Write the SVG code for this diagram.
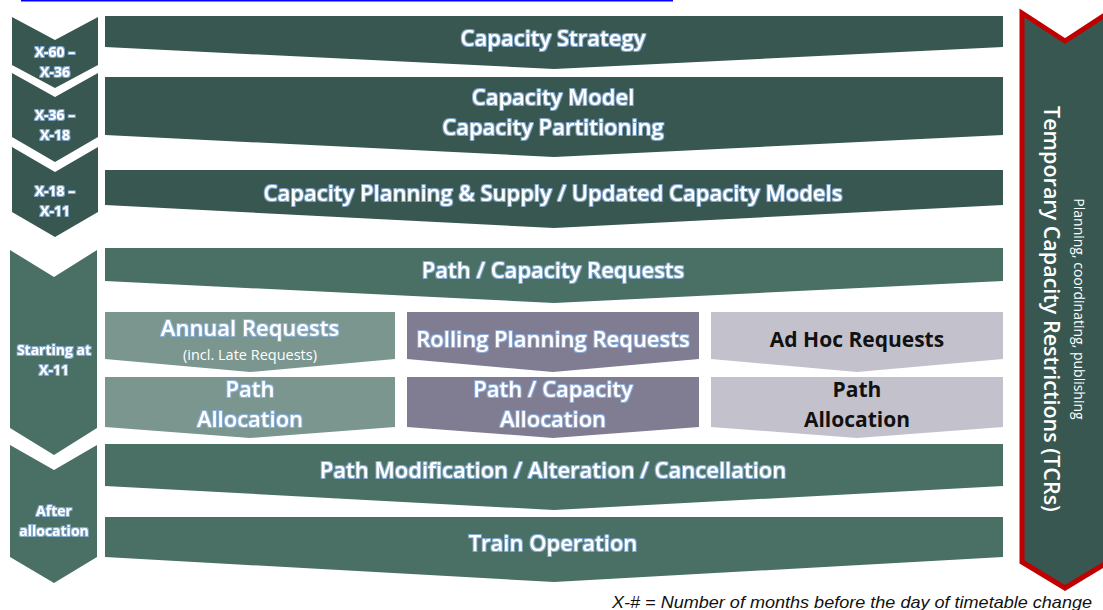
<svg xmlns="http://www.w3.org/2000/svg" width="1103" height="610" viewBox="0 0 1103 610">
<defs>
<filter id="glow" x="-10%" y="-30%" width="120%" height="160%">
<feMorphology in="SourceAlpha" operator="dilate" radius="0.5" result="d"/>
<feGaussianBlur in="d" stdDeviation="0.7" result="b"/>
<feFlood flood-color="#8fb8e8" flood-opacity="0.8"/>
<feComposite in2="b" operator="in" result="g"/>
<feMerge><feMergeNode in="g"/><feMergeNode in="SourceGraphic"/></feMerge>
</filter>
</defs>
<style>
.dk{fill:#385750}
.md{fill:#4A7066}
.an{fill:#7A968F}
.rp{fill:#807C92}
.ah{fill:#C3C1CC}
text{font-family:"Open Sans","Liberation Sans",sans-serif;text-anchor:middle}
.t{fill:#fff;font-weight:600;font-size:22px;filter:url(#glow)}
.td{fill:#111;font-weight:700;font-size:21px}
.lb{fill:#fff;font-weight:700;font-size:14px;filter:url(#glow)}
.sm{fill:#fff;font-size:14.5px}
</style>
<rect width="1103" height="610" fill="#fff"/>
<line x1="21" y1="0.8" x2="673" y2="0.8" stroke="#0000ff" stroke-width="1.6"/>

<g id="phase-x60">
<polygon class="dk" points="12,17 55,40 98,17 98,65 55,88 12,65"/>
<text class="lb" x="55" y="57">X-60 –</text>
<text class="lb" x="55" y="77">X-36</text>
</g>
<g id="phase-x36">
<polygon class="dk" points="12,73 55,97 98,73 98,137 55,162 12,137"/>
<text class="lb" x="55" y="120">X-36 –</text>
<text class="lb" x="55" y="140">X-18</text>
</g>
<g id="phase-x18">
<polygon class="dk" points="12,147 55,172 98,147 98,212 55,237 12,212"/>
<text class="lb" x="55" y="196">X-18 –</text>
<text class="lb" x="55" y="216">X-11</text>
</g>
<g id="phase-x11">
<polygon class="md" points="10,250 54,277 97,250 97,428 54,455 10,428"/>
<text class="lb" x="54" y="355">Starting at</text>
<text class="lb" x="54" y="375">X-11</text>
</g>
<g id="phase-after">
<polygon class="md" points="10,445 54,470 97,445 97,557 54,583 10,557"/>
<text class="lb" x="54" y="516">After</text>
<text class="lb" x="54" y="536">allocation</text>
</g>

<g id="capacity-strategy">
<polygon class="dk" points="105,16 1003,16 1003,47 554,69 105,47"/>
<text class="t" x="553" y="46">Capacity Strategy</text>
</g>
<g id="capacity-model">
<polygon class="dk" points="105,77 1003,77 1003,135 554,157 105,135"/>
<text class="t" x="553" y="105">Capacity Model</text>
<text class="t" x="553" y="135">Capacity Partitioning</text>
</g>
<g id="capacity-planning">
<polygon class="dk" points="105,170 1003,170 1003,205 554,228 105,205"/>
<text class="t" x="553" y="201">Capacity Planning &amp; Supply / Updated Capacity Models</text>
</g>
<g id="path-requests">
<polygon class="md" points="105,248 1003,248 1003,281 554,303 105,281"/>
<text class="t" x="553" y="278">Path / Capacity Requests</text>
</g>
<g id="annual-requests">
<polygon class="an" points="105,312 395,312 395,359 250,372 105,359"/>
<text class="t" x="250" y="336">Annual Requests</text>
<text class="sm" x="250" y="360">(incl. Late Requests)</text>
</g>
<g id="rolling-requests">
<polygon class="rp" points="407,312 699,312 699,359 553,372 407,359"/>
<text class="t" x="553" y="347">Rolling Planning Requests</text>
</g>
<g id="adhoc-requests">
<polygon class="ah" points="711,312 1003,312 1003,359 857,372 711,359"/>
<text class="td" x="857" y="347">Ad Hoc Requests</text>
</g>
<g id="annual-allocation">
<polygon class="an" points="105,377 395,377 395,427 250,438 105,427"/>
<text class="t" x="250" y="397">Path</text>
<text class="t" x="250" y="427">Allocation</text>
</g>
<g id="rolling-allocation">
<polygon class="rp" points="407,377 699,377 699,427 553,438 407,427"/>
<text class="t" x="553" y="397">Path / Capacity</text>
<text class="t" x="553" y="427">Allocation</text>
</g>
<g id="adhoc-allocation">
<polygon class="ah" points="711,377 1003,377 1003,427 857,438 711,427"/>
<text class="td" x="857" y="397">Path</text>
<text class="td" x="857" y="427">Allocation</text>
</g>
<g id="path-modification">
<polygon class="md" points="105,444 1003,444 1003,486 554,510 105,486"/>
<text class="t" x="553" y="478">Path Modification / Alteration / Cancellation</text>
</g>
<g id="train-operation">
<polygon class="md" points="105,517 1003,517 1003,557 554,582 105,557"/>
<text class="t" x="553" y="551">Train Operation</text>
</g>

<g id="tcr">
<polygon points="1022,13 1065,41 1108,13 1108,562 1065,588 1022,562" fill="#385750" stroke="#C00000" stroke-width="5" stroke-linejoin="miter"/>
<text transform="translate(1044,309) rotate(90)" fill="#fff" font-size="21.5" font-weight="600" x="0" y="0">Temporary Capacity Restrictions (TCRs)</text>
<text transform="translate(1074,309) rotate(90)" fill="#fff" font-size="14" x="0" y="0">Planning, coordinating, publishing</text>
</g>

<g id="connectors"></g>

<text x="852" y="608" font-size="17" font-style="italic" fill="#111" textLength="480" lengthAdjust="spacingAndGlyphs" style="font-family:'Liberation Sans',sans-serif">X-# = Number of months before the day of timetable change</text>
</svg>
